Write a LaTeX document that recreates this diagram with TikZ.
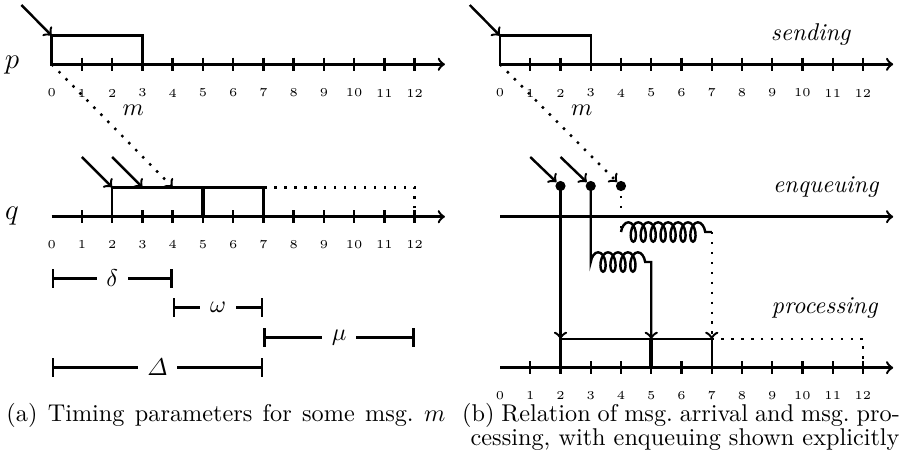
\documentclass[tikz,border=0pt]{standalone}
\usepackage{amsmath}
\usetikzlibrary{decorations.pathmorphing}
\begin{document}
\begin{tikzpicture}[x=0.4124pt,y=-0.4124pt,
  axis/.style={line width=1pt,->},
  tickmark/.style={line width=1pt},
  boxline/.style={line width=1pt},
  sepline/.style={line width=1.8pt},
  dotline/.style={line width=1pt,dash pattern=on 1pt off 3.1pt},
  ticklab/.style={font=\tiny,inner sep=0pt},
  inarrow/.style={line width=1pt,->},
  lab/.style={inner sep=0pt},
  interval/.style={line width=1pt,|-|},
  gaplab/.style={fill=white,inner sep=4pt},
  coildeco/.style={decoration={coil,amplitude=4pt,segment length=4.1pt,aspect=0.5}},
  dotnode/.style={circle,fill=black,inner sep=0pt,minimum size=4.2pt}
]
\useasboundingbox (0,0) rectangle (904,466);

% ---------------- left panel ----------------
\begin{scope}[shift={(51.7,0)},x=12.475pt]
  \node[lab,font=\large] (plab) at (-1.31,65) {$p$};
  \node[lab,font=\large] (qlab) at (-1.31,216) {$q$};
  % p axis
  \coordinate (lp0) at (0,64.3);
  \coordinate (lp13) at (13,64.3);
  \draw[axis] (lp0) -- (lp13);
  \foreach \i in {1,...,12} \draw[tickmark] (\i,57.6) -- (\i,71);
  \foreach \i in {0,...,12} \node[ticklab] (lpl\i) at (\i,93) {\i};
  \coordinate (lpb0) at (0,35.7);
  \draw[boxline] (lp0) rectangle (3,35.7);
  \coordinate (lpin) at (-1,5);
  \draw[inarrow] (lpin) -- (lpb0);
  \node[lab] (lm) at (2.7,110) {$m$};
  % q axis
  \coordinate (lq0) at (0,216.7);
  \coordinate (lq13) at (13,216.7);
  \draw[axis] (lq0) -- (lq13);
  \coordinate (lqt2) at (2,187.3);
  \coordinate (lqt3) at (3,187.3);
  \coordinate (lqt4) at (4,187.3);
  \draw[dotline] (7,187.3) rectangle (12,216.7);
  \draw[boxline] (2,187.3) rectangle (7,216.7);
  \draw[sepline] (5,187.3) -- (5,216.7);
  \foreach \i in {1,...,12} \draw[tickmark] (\i,210) -- (\i,223.4);
  \foreach \i in {0,...,12} \node[ticklab] (lql\i) at (\i,244.5) {\i};
  \coordinate (lqa2) at (1,157);
  \coordinate (lqa3) at (2,157);
  \draw[inarrow] (lqa2) -- (lqt2);
  \draw[inarrow] (lqa3) -- (lqt3);
  \draw[dotline,->] (lp0) -- (lqt4);
  % intervals
  \draw[interval] (0,278.3) -- node[gaplab] (ld) {$\delta$} (4,278.3);
  \draw[interval] (4,307.7) -- node[gaplab] (lw) {$\omega$} (7,307.7);
  \draw[interval] (7,337.7) -- node[gaplab] (lmu) {$\mu$} (12,337.7);
  \draw[interval] (0,367.3) -- node[gaplab] (lD) {$\varDelta$} (7,367.3);
\end{scope}

% ---------------- right panel ----------------
\begin{scope}[shift={(500,0)},x=12.475pt]
  % sending axis
  \coordinate (rp0) at (0,64.3);
  \coordinate (rp13) at (13,64.3);
  \draw[axis] (rp0) -- (rp13);
  \foreach \i in {1,...,12} \draw[tickmark] (\i,57.6) -- (\i,71);
  \foreach \i in {0,...,12} \node[ticklab] (rpl\i) at (\i,93) {\i};
  \coordinate (rpb0) at (0,35.7);
  \draw[boxline] (rp0) rectangle (3,35.7);
  \coordinate (rpin) at (-1,5);
  \draw[inarrow] (rpin) -- (rpb0);
  \node[lab] (rm) at (2.7,110) {$m$};
  \node[lab] (send) at (10.28,35) {\textit{sending}};
  % enqueuing
  \coordinate (re0) at (0,216.7);
  \coordinate (re13) at (13,216.7);
  \draw[axis] (re0) -- (re13);
  \node[lab] (enq) at (10.78,186.7) {\textit{enqueuing}};
  \node[dotnode] (d2) at (2,186) {};
  \node[dotnode] (d3) at (3,186) {};
  \node[dotnode] (d4) at (4,186) {};
  \coordinate (ra2) at (1,157);
  \coordinate (ra3) at (2,157);
  \draw[inarrow] (ra2) -- (d2);
  \draw[inarrow] (ra3) -- (d3);
  \draw[dotline,->] (rp0) -- (d4);
  % processing
  \coordinate (rq0) at (0,367.7);
  \coordinate (rq13) at (13,367.7);
  \draw[axis] (rq0) -- (rq13);
  \draw[dotline] (7,339) rectangle (12,367.7);
  \draw[boxline] (2,339) rectangle (7,367.7);
  \draw[sepline] (5,339) -- (5,367.7);
  \foreach \i in {1,...,12} \draw[tickmark] (\i,361) -- (\i,374.4);
  \foreach \i in {0,...,12} \node[ticklab] (rql\i) at (\i,395.3) {\i};
  \node[lab] (proc) at (10.74,308) {\textit{processing}};
  \coordinate (rt2) at (2,339);
  \coordinate (rt5) at (5,339);
  \coordinate (rt7) at (7,339);
  \coordinate (c3a) at (3,262);
  \coordinate (c3b) at (5,262);
  \coordinate (c4a) at (4,232);
  \coordinate (c4b) at (7,232);
  \draw[inarrow] (d2.center) -- (rt2);
  \draw[inarrow] (d3.center) -- (c3a) decorate[coildeco] {-- (c3b)} -- (rt5);
  \draw[dotline] (d4.center) -- (c4a);
  \draw[line width=1pt,decorate,coildeco] (c4a) -- (c4b);
  \draw[dotline,->] (c4b) -- (rt7);
\end{scope}

% ---------------- captions ----------------
\node[lab,anchor=west] (capa) at (6,415) {\makebox[181pt][s]{(a) Timing parameters for some msg.\ $m$}};
\node[lab,anchor=west] (capb1) at (461.7,415) {\makebox[180.5pt][s]{(b) Relation of msg.\ arrival and msg.\ pro-}};
\node[lab,anchor=east] (capb2) at (900,440) {cessing, with enqueuing shown explicitly};
\end{tikzpicture}
\end{document}
